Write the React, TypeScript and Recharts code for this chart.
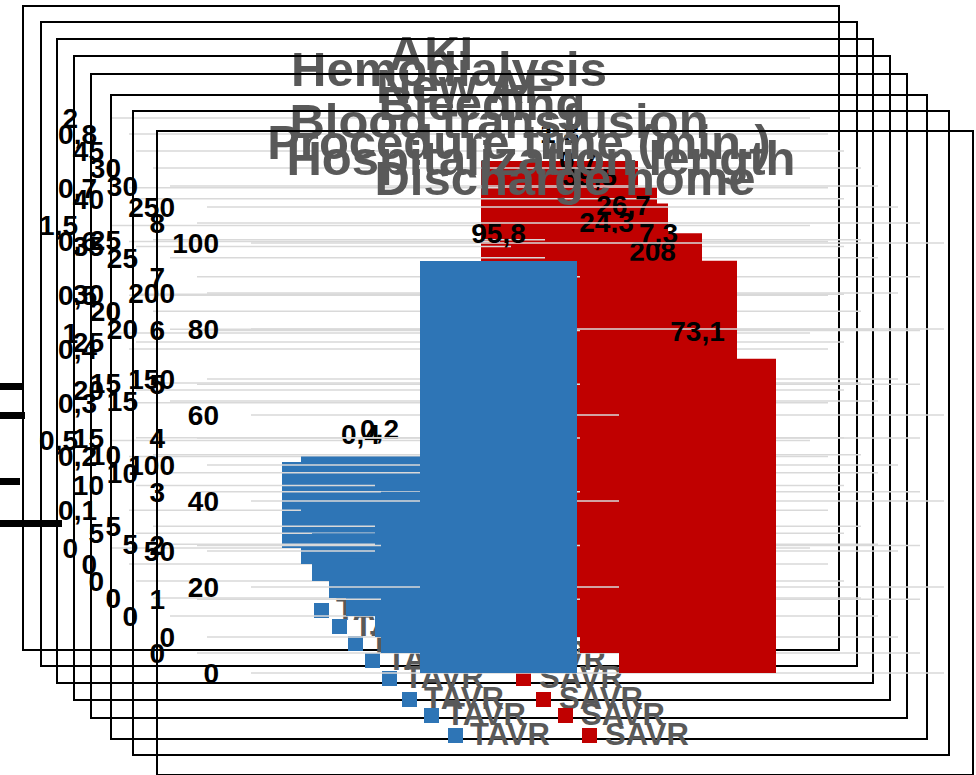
import { BarChart, Bar, XAxis, YAxis, CartesianGrid, LabelList } from 'recharts';

// one small chart per outcome, TAVR vs SAVR
const titles = [
  'AKI',
  'Hemodialysis',
  'New AF',
  'Bleeding',
  'Blood transfusion',
  'Procedure time (min.)',
  'Hospitalization length',
  'Discharge home',
];
const tavrValues = [0.4, 0.2, 5, 3.6, 4, 92, 3, 95.8];
const savrValues = [1.8, 0.7, 39.5, 24.3, 26.7, 208, 7.3, 73.1];
const axisTicks = [
  [0, 0.5, 1, 1.5, 2],
  [0, 0.1, 0.2, 0.3, 0.4, 0.5, 0.6, 0.7, 0.8],
  [0, 5, 10, 15, 20, 25, 30, 35, 40, 45],
  [0, 5, 10, 15, 20, 25, 30],
  [0, 5, 10, 15, 20, 25, 30],
  [0, 50, 100, 150, 200, 250],
  [0, 1, 2, 3, 4, 5, 6, 7, 8],
  [0, 20, 40, 60, 80, 100],
];
const seriesNames = ['TAVR', 'SAVR'];

// where each panel sits on the page (they are stacked with an offset)
const frames = [
  { left: 22, top: 5, axisW: 88 },
  { left: 40, top: 21, axisW: 89 },
  { left: 56, top: 38, axisW: 80 },
  { left: 73, top: 55, axisW: 80 },
  { left: 90, top: 73, axisW: 80 },
  { left: 110, top: 94, axisW: 97 },
  { left: 132, top: 110, axisW: 65 },
  { left: 156, top: 130, axisW: 95 },
];

const W = 818;
const H = 646;
const BLUE = '#2e75b6';
const RED = '#c00000';
const FONT = '"Liberation Sans", Arial, sans-serif';

const fmt = (v: any) => String(v).replace('.', ',');

function Panel({ i }: { i: number }) {
  const f = frames[i];
  const t = axisTicks[i];
  const data = [{ name: titles[i], TAVR: tavrValues[i], SAVR: savrValues[i] }];
  const cx = W / 2;
  return (
    <div style={{ position: 'absolute', left: f.left, top: f.top, width: W, height: H }}>
      <div
        style={{
          position: 'absolute',
          left: 0,
          top: 0,
          width: W,
          height: H,
          border: '2px solid #000',
          boxSizing: 'border-box',
        }}
      />
      <div style={{ position: 'absolute', left: 0, top: 0 }}>
        <BarChart
          width={W}
          height={H}
          data={data}
          margin={{ top: 113, right: 30, bottom: 103, left: 0 }}
          barSize={157}
          barGap={42}
        >
          <CartesianGrid vertical={false} stroke="#d9d9d9" strokeWidth={1.5} />
          <XAxis dataKey="name" hide />
          <YAxis
            width={f.axisW}
            domain={[0, t[t.length - 1]]}
            ticks={t}
            interval={0}
            tickFormatter={fmt}
            axisLine={false}
            tickLine={false}
            tickSize={0}
            tickMargin={32}
            tick={{ fill: '#000', fontSize: 28, fontWeight: 700, fontFamily: FONT }}
          />
          <Bar dataKey="TAVR" fill={BLUE} isAnimationActive={false}>
            <LabelList
              dataKey="TAVR"
              position="top"
              offset={18}
              formatter={fmt}
              fill="#000"
              fontSize={28}
              fontWeight={700}
              fontFamily={FONT}
            />
          </Bar>
          <Bar dataKey="SAVR" fill={RED} isAnimationActive={false}>
            <LabelList
              dataKey="SAVR"
              position="top"
              offset={18}
              formatter={fmt}
              fill="#000"
              fontSize={28}
              fontWeight={700}
              fontFamily={FONT}
            />
          </Bar>
        </BarChart>
      </div>
      <svg
        width={W}
        height={H}
        style={{ position: 'absolute', left: 0, top: 0, pointerEvents: 'none', overflow: 'visible' }}
      >
        <text
          x={cx}
          y={65}
          textAnchor="middle"
          fill="#595959"
          fontSize={49}
          fontWeight={700}
          fontFamily={FONT}
        >
          {titles[i]}
        </text>
        <rect x={cx - 117} y={598} width={15} height={15} fill={BLUE} />
        <text x={cx - 95} y={615} fill="#595959" fontSize={31} fontWeight={700} fontFamily={FONT}>
          {seriesNames[0]}
        </text>
        <rect x={cx + 17} y={598} width={15} height={15} fill={RED} />
        <text x={cx + 40} y={615} fill="#595959" fontSize={31} fontWeight={700} fontFamily={FONT}>
          {seriesNames[1]}
        </text>
      </svg>
    </div>
  );
}

// stray thick strokes at the left page edge
const edgeMarks = [
  { top: 383, width: 22 },
  { top: 412, width: 25 },
  { top: 478, width: 20 },
  { top: 520, width: 62 },
];

export default function App() {
  return (
    <div
      style={{
        position: 'absolute',
        left: 0,
        top: 0,
        width: 976,
        height: 775,
        overflow: 'hidden',
        background: '#fff',
      }}
    >
      {edgeMarks.map((m, k) => (
        <div
          key={k}
          style={{ position: 'absolute', left: 0, top: m.top, width: m.width, height: 7, background: '#000' }}
        />
      ))}
      {titles.map((_, i) => (
        <Panel key={i} i={i} />
      ))}
    </div>
  );
}
